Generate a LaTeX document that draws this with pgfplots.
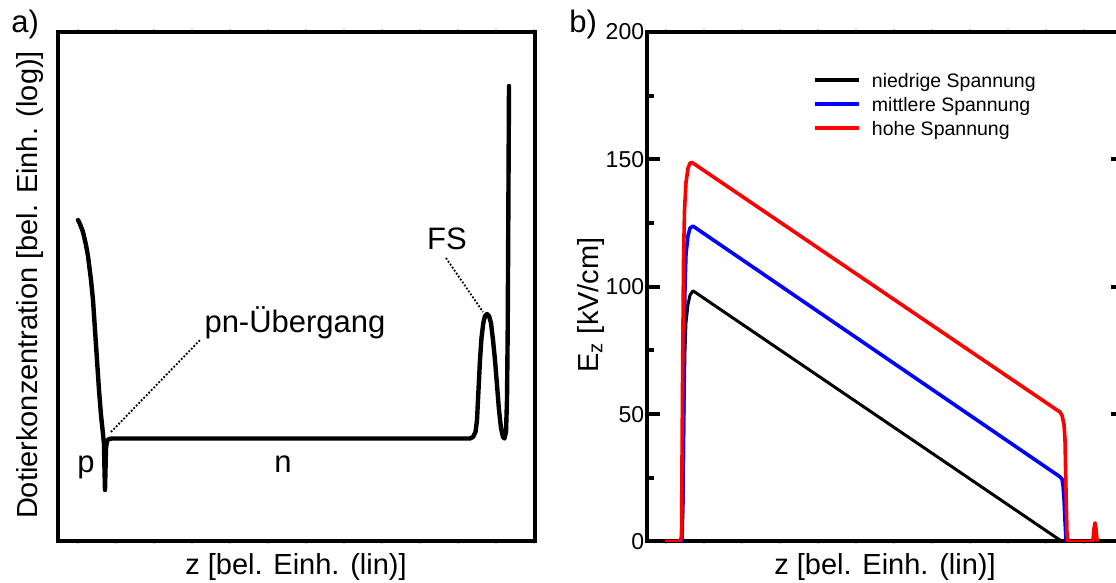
\documentclass[border=0pt]{standalone}
\usepackage{fontspec}
\setmainfont{Liberation Sans}
\usepackage{pgfplots}
\pgfplotsset{compat=1.18}
\newcommand\labfont{\fontsize{14.5}{17}\selectfont}
\newcommand\annfont{\fontsize{15.5}{18}\selectfont}
\newcommand\tickfont{\fontsize{11.5}{13}\selectfont}
\newcommand\legfont{\fontsize{9.75}{11}\selectfont}
\begin{document}
\begin{tikzpicture}
\useasboundingbox (0,0) rectangle (558pt,291.5pt);
\clip (0,0) rectangle (558pt,291.5pt);

% faint ticks, left panel
\begin{axis}[at={(29pt,20.75pt)}, anchor=south west, scale only axis,
  width=238.5pt, height=254.75pt, xmin=58, xmax=535, ymin=0, ymax=1,
  axis line style={draw=none}, ytick=\empty, xtick={78,116,...,534},
  xticklabels={}, xtick pos=both, xtick align=outside, major tick length=1.5pt,
  tick style={gray!40, line width=0.6pt}]
\end{axis}
% faint ticks, right panel
\begin{axis}[at={(323.25pt,20.75pt)}, anchor=south west, scale only axis,
  width=238.5pt, height=254.75pt, xmin=646.5, xmax=1123.5, ymin=0, ymax=1,
  axis line style={draw=none}, ytick=\empty, xtick={666,704,...,1123},
  xticklabels={}, xtick pos=both, xtick align=outside, major tick length=1.5pt,
  tick style={gray!40, line width=0.6pt}]
\end{axis}

% ---------- panel a ----------
\begin{axis}[at={(29pt,20.75pt)}, anchor=south west, scale only axis,
  width=238.5pt, height=254.75pt, xmin=58, xmax=535, ymin=32, ymax=541.5,
  y dir=reverse, xtick=\empty, ytick=\empty, axis line style={line width=2pt}]
\addplot[line width=2.2pt, line join=round, line cap=round, no marks] coordinates {
(78,220) (80,224) (83,232) (86,245) (88,256) (91,280) (93,300) (95,330)
(97,360) (99,390) (101,415) (103,434) (104,444) (104.5,470) (105,490)
(105.5,470) (106,448) (107,441) (109,439) (112,438.5)
(470,438.5) (473,437) (475.5,432) (477,420) (478.5,390) (480,360) (481.5,338)
(483.3,323) (485,316) (487,314) (489,316) (491,323) (493,340) (495,360)
(497,385) (499,410) (501,428) (503,437) (504.5,438.5) (506,432) (507,400)
(507.7,330) (508.3,220) (509,86)};
\addplot[line width=0.9pt, dash pattern=on 0.9pt off 0.9pt, no marks] coordinates {(111,432) (201,339)};
\addplot[line width=0.9pt, dash pattern=on 0.9pt off 0.9pt, no marks] coordinates {(446,258) (483,312)};
\end{axis}

% ---------- panel b ----------
\begin{axis}[at={(323.25pt,20.75pt)}, anchor=south west, scale only axis,
  width=238.5pt, height=254.75pt, xmin=646.5, xmax=1123.5, ymin=0, ymax=200,
  xtick=\empty, ytick={0,50,...,200}, minor y tick num=1,
  ytick pos=both, yticklabel pos=left, tick align=inside,
  major tick length=6.5pt, minor tick length=3.5pt,
  tick style={line width=2pt, black},
  axis line style={line width=2pt},
  yticklabel style={font=\tickfont, inner sep=1pt},
  /pgf/number format/assume math mode=true,
  legend cell align=left,
  legend image code/.code={\draw[#1, line width=2pt] (0pt,2.25pt) -- (22pt,2.25pt);},
  legend style={draw=none, fill=none, inner sep=0pt, outer sep=0pt,
    column sep=5.5pt, row sep=0pt, font=\legfont,
    nodes={inner sep=0pt, text height=7.5pt, text depth=4.5pt},
    at={(0.349,0.9205)}, anchor=north west}]
\addplot[line width=1.5pt, black, line join=round, no marks] coordinates {
(666,0) (682,0) (683,15) (684,50) (685,75) (686,86) (688,93) (690,96.7) (693,98.4)
(1062,0) (1066,0)};
\addlegendentry{niedrige Spannung}
\addplot[line width=1.8pt, blue, line join=round, no marks] coordinates {
(681,0) (682,0) (683,20) (684,70) (685,100) (686,113) (688,120) (690,123) (693,123.8)
(1060,25.4) (1062,24.5) (1063,22) (1064,17) (1065,8) (1066,1) (1067,0)};
\addlegendentry{mittlere Spannung}
\addplot[line width=1.8pt, red, line join=round, no marks] coordinates {
(665,0) (680,0) (681.5,2) (682.5,60) (683.5,110) (684.5,130) (686,141) (688,146.5)
(690,148.5) (692,148.8) (1060,50.8) (1062,49.5) (1064,46) (1065,40) (1066,20)
(1067,3) (1068,0) (1092,0) (1093,0.5) (1094,5) (1095,7.3) (1096,5) (1097,1) (1097.5,0)};
\addlegendentry{hohe Spannung}
\end{axis}

% ---------- texts (pixel coordinates) ----------
\begin{scope}[x=0.5pt, y=-0.5pt, yshift=291.5pt]
\node[anchor=base west, inner sep=0pt, font=\annfont] at (11,33) {a)};
\node[anchor=base west, inner sep=0pt, font=\annfont] at (569,33) {b)};
\node[anchor=base, inner sep=0pt, rotate=90, font=\labfont] at (38,285) {Dotierkonzentration [bel. Einh. (log)]};
\node[anchor=base, inner sep=0pt, rotate=90, font=\labfont] at (598,305) {E\textsubscript{z} [kV/cm]};
\node[anchor=base, inner sep=0pt, font=\labfont] at (296,575) {z [bel. Einh. (lin)]};
\node[anchor=base, inner sep=0pt, font=\labfont] at (885,575) {z [bel. Einh. (lin)]};
\node[anchor=base, inner sep=0pt, font=\annfont] at (295,333) {pn-Übergang};
\node[anchor=base, inner sep=0pt, font=\annfont] at (447,250) {FS};
\node[anchor=base, inner sep=0pt, font=\annfont] at (86,473) {p};
\node[anchor=base, inner sep=0pt, font=\annfont] at (283,473) {n};
\end{scope}
\end{tikzpicture}
\end{document}
